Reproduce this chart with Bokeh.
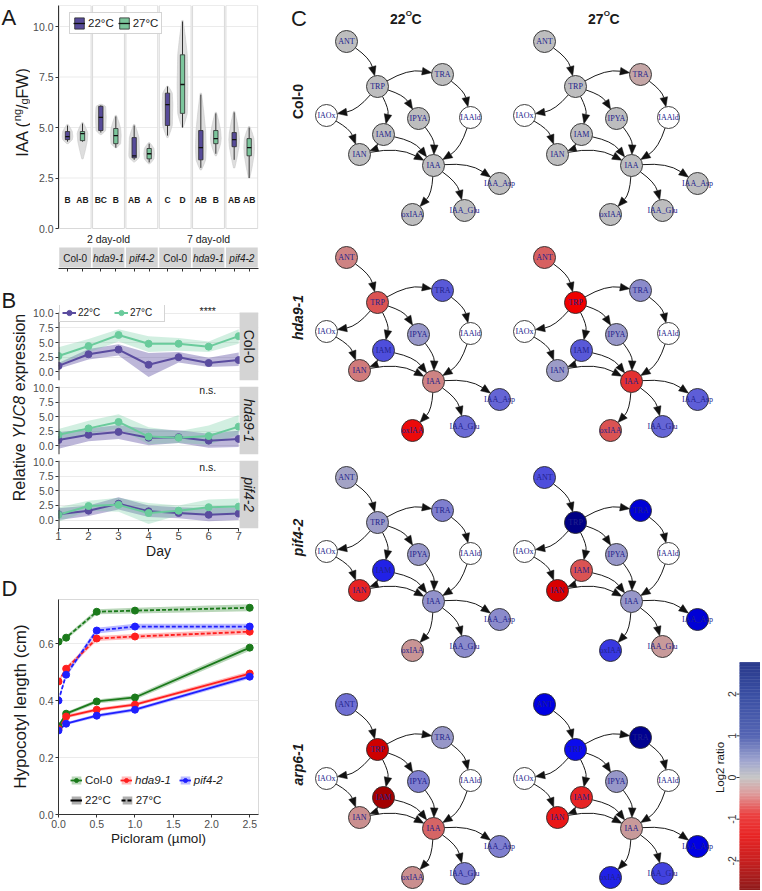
import math
import numpy as np
from bokeh.plotting import figure
from bokeh.models import (Range1d, FixedTicker, NumeralTickFormatter, Legend,
                          LegendItem, ColumnDataSource, LinearColorMapper)
from bokeh.layouts import row, column
from bokeh.embed import file_html
from bokeh.resources import INLINE
from bokeh.core.properties import value

SANS = "Liberation Sans"
SERIF = "Liberation Serif"
AX = "#333333"
TICKTXT = "#4D4D4D"
GRID = "#EBEBEB"
TXT = "#1A1A1A"
PURPLE = "#5A4C9F"
GREEN = "#6ACB9C"
BOX22 = "#574B99"
BOX27 = "#7CC69C"
STRIP = "#D4D4D4"
C_COL0 = "#1B7A1B"
C_HDA9 = "#FF1F1F"
C_PIF4 = "#1F1FFF"

# ======================= DATA =======================
# ---- Panel A : IAA (ng/gFW), facets = age x genotype
a_age = ["2 day-old", "7 day-old"]
a_genotype = ["Col-0", "hda9-1", "pif4-2", "Col-0", "hda9-1", "pif4-2"]
a_temp = ["22°C", "27°C"]
a22_lo = [4.3, 4.75, 3.4, 4.6, 3.0, 3.4]
a22_q1 = [4.4, 4.85, 3.5, 5.1, 3.4, 4.05]
a22_med = [4.55, 5.5, 3.6, 6.13, 4.0, 4.4]
a22_q3 = [4.8, 6.05, 4.5, 6.7, 4.85, 4.75]
a22_hi = [5.1, 6.1, 5.1, 7.03, 6.63, 5.75]
a27_lo = [4.3, 4.0, 3.27, 5.0, 3.7, 2.5]
a27_q1 = [4.35, 4.2, 3.45, 5.7, 4.2, 3.6]
a27_med = [4.7, 4.6, 3.7, 7.13, 4.45, 4.0]
a27_q3 = [4.8, 4.95, 3.96, 8.6, 4.85, 4.45]
a27_hi = [5.2, 5.55, 4.2, 10.25, 5.7, 5.0]
a22_vmin = [4.2, 4.65, 3.3, 4.5, 2.9, 3.0]
a22_vmax = [5.15, 6.15, 5.15, 7.05, 6.7, 5.8]
a27_vmin = [3.45, 4.0, 3.2, 5.0, 3.6, 2.5]
a27_vmax = [5.25, 5.6, 4.25, 10.3, 5.75, 5.05]
a22_group = ["B", "BC", "AB", "C", "AB", "AB"]
a27_group = ["AB", "B", "A", "D", "B", "AB"]
a_yticks = [0, 2.5, 5, 7.5, 10]

# ---- Panel B : relative YUC8 expression
b_day = [1, 2, 3, 4, 5, 6, 7]
b_genotype = ["Col-0", "hda9-1", "pif4-2"]
b_signif = ["****", "n.s.", "n.s."]
b_col0_22 = [1.0, 3.0, 3.8, 1.2, 2.5, 1.5, 2.0]
b_col0_22_lo = [0.5, 2.1, 2.8, -0.9, 1.6, 0.8, 1.0]
b_col0_22_hi = [1.5, 3.9, 4.7, 3.2, 3.4, 2.4, 3.3]
b_col0_27 = [2.7, 4.4, 6.3, 4.8, 4.8, 4.3, 6.1]
b_col0_27_lo = [1.2, 3.3, 5.2, 3.4, 3.6, 3.4, 4.8]
b_col0_27_hi = [4.2, 5.6, 7.3, 6.1, 5.8, 5.2, 7.3]
b_hda9_22 = [1.0, 1.9, 2.4, 1.4, 1.5, 0.9, 1.2]
b_hda9_22_lo = [-0.5, 0.8, 1.2, 0.1, 0.5, -0.3, -0.2]
b_hda9_22_hi = [2.3, 3.0, 3.6, 2.9, 2.7, 2.1, 2.6]
b_hda9_27 = [1.9, 3.0, 4.1, 1.6, 1.4, 1.7, 3.3]
b_hda9_27_lo = [0.9, 2.0, 3.0, 0.3, 0.5, 0.2, 1.9]
b_hda9_27_hi = [2.9, 4.3, 5.4, 3.2, 2.5, 3.5, 5.3]
b_pif4_22 = [1.0, 1.6, 2.8, 1.5, 1.2, 0.9, 1.1]
b_pif4_22_lo = [0.0, 0.7, 1.8, 0.5, 0.3, -0.2, 0.0]
b_pif4_22_hi = [2.0, 2.5, 3.9, 2.5, 2.2, 2.0, 2.2]
b_pif4_27 = [0.9, 2.4, 2.6, 1.2, 1.6, 2.2, 2.3]
b_pif4_27_lo = [-0.3, 1.6, 1.4, -0.7, 0.8, 0.9, 0.8]
b_pif4_27_hi = [2.2, 3.3, 3.8, 2.9, 2.5, 3.5, 3.7]
b_yticks = [0, 2.5, 5, 7.5, 10]

# ---- Panel D : hypocotyl length (cm) vs picloram (umol)
d_dose = [0.0, 0.1, 0.5, 1.0, 2.5]
d_col0_22 = [0.31, 0.354, 0.397, 0.411, 0.586]
d_hda9_22 = [0.30, 0.344, 0.368, 0.386, 0.495]
d_pif4_22 = [0.295, 0.319, 0.347, 0.368, 0.484]
d_col0_27 = [0.607, 0.621, 0.712, 0.716, 0.726]
d_hda9_27 = [0.467, 0.512, 0.618, 0.625, 0.642]
d_pif4_27 = [0.40, 0.491, 0.646, 0.66, 0.66]
d_col0_22_se = [0.006, 0.006, 0.007, 0.008, 0.011]
d_hda9_22_se = [0.005, 0.006, 0.006, 0.006, 0.008]
d_pif4_22_se = [0.005, 0.005, 0.006, 0.006, 0.007]
d_col0_27_se = [0.007, 0.007, 0.009, 0.010, 0.012]
d_hda9_27_se = [0.007, 0.008, 0.009, 0.009, 0.010]
d_pif4_27_se = [0.007, 0.008, 0.010, 0.010, 0.010]
d_genotype = ["Col-0", "hda9-1", "pif4-2"]
d_temp = ["22°C", "27°C"]

# ---- Panel C : metabolite network, log2 ratios (NaN = not measured)
c_nodes = ["ANT", "TRP", "TRA", "IAOx", "IPYA", "IAAld", "IAM", "IAN", "IAA",
           "IAA_Asp", "oxIAA", "IAA_Glu"]
c_edge_from = ["ANT", "TRP", "TRP", "TRP", "TRP", "TRA", "IAOx", "IAM", "IAM",
               "IAN", "IPYA", "IAAld", "IAA", "IAA", "IAA"]
c_edge_to = ["TRP", "TRA", "IAOx", "IAM", "IPYA", "IAAld", "IAN", "IAN", "IAA",
             "IAA", "IAA", "IAA", "IAA_Asp", "oxIAA", "IAA_Glu"]
c_genotype = ["Col-0", "hda9-1", "pif4-2", "arp6-1"]
c_temp = ["22", "27"]
nan = float("nan")
c_col0_22 = [0, 0, 0, nan, 0, nan, 0, 0, 0, 0, 0, 0]
c_col0_27 = [0, 0, -0.2, nan, 0, nan, 0, 0, 0, 0, 0, 0]
c_hda9_22 = [-0.5, -0.9, 0.9, nan, 0.35, nan, 1.0, -0.55, -0.5, 0.8, -1.5, 0.75]
c_hda9_27 = [-0.8, -1.6, 0.45, nan, 0.35, nan, 0.9, 0.3, -1.2, 0.85, -0.9, 0.8]
c_pif4_22 = [0.25, 0.3, 0.55, nan, 0.35, nan, 1.4, -1.3, 0.4, 0.45, -0.35, 0.45]
c_pif4_27 = [1.0, 2.6, 1.9, nan, 0.35, nan, -0.9, -1.8, 0.35, 1.9, 1.2, -0.3]
c_arp6_22 = [0.7, -1.9, 0.35, nan, 0.55, nan, -2.3, -0.4, -0.75, 0.55, -0.4, 0.6]
c_arp6_27 = [1.8, 1.6, 2.5, nan, 0.35, nan, -1.3, -1.4, -0.3, 1.8, 1.4, 1.1]
c_cbar_ticks = [-2, -1, 0, 1, 2]

# ---- network layout (pixel offsets from ANT) and panel anchors
LAY_DX = [0, 31, 96, -20, 72, 124, 37, 13, 87, 153, 66, 118]
LAY_DY = [0, 45, 33, 74, 77, 76, 93, 113, 124, 142, 173, 169]
ANCHOR_X = [346, 544]
ANCHOR_Y = [41, 257, 477, 704]


# ======================= HELPERS =======================
def conv(fl, ft, fw, fh, xr, yr):
    def fx(px):
        return xr[0] + (px - fl) * (xr[1] - xr[0]) / fw

    def fy(py):
        return yr[0] + (ft + fh - py) * (yr[1] - yr[0]) / fh
    return fx, fy


def style_axis(ax, size="10.5px"):
    ax.axis_line_color = AX
    ax.major_tick_line_color = AX
    ax.major_tick_out = 3
    ax.major_tick_in = 0
    ax.minor_tick_line_color = None
    ax.major_label_text_font = SANS
    ax.major_label_text_font_size = size
    ax.major_label_text_color = TICKTXT
    ax.major_label_standoff = 2


def new_fig(w, h, xr, yr, l, r, t, b):
    p = figure(width=w, height=h, x_range=Range1d(*xr), y_range=Range1d(*yr),
               output_backend="svg", toolbar_location=None,
               min_border_left=l, min_border_right=r, min_border_top=t, min_border_bottom=b)
    p.background_fill_color = "white"
    p.border_fill_color = "white"
    return p


def ptext(p, x, y, text, size, style="normal", align="left", baseline="middle", angle=0.0,
          color=TXT, font=SANS):
    p.text(x=[x], y=[y], text=[text], text_font=value(font), text_font_size=f"{size}px",
           text_font_style=value(style), text_align=align, text_baseline=baseline,
           angle=angle, text_color=color)


def hex2rgb(h):
    return tuple(int(h[i:i + 2], 16) for i in (1, 3, 5))


def ramp(anchors, n=256):
    av = [a for a, _ in anchors]
    ac = [hex2rgb(c) for _, c in anchors]
    out = []
    for t in np.linspace(av[0], av[-1], n):
        rgb = [int(round(np.interp(t, av, [c[j] for c in ac]))) for j in range(3)]
        out.append("#%02x%02x%02x" % tuple(rgb))
    return out


TW = 30  # width of the side-title strip
H_ALL = 890

# side strip: figure whose data coordinates are page pixels
tL = figure(width=TW, height=H_ALL, x_range=Range1d(0, TW), y_range=Range1d(H_ALL, 0),
            x_axis_location=None, y_axis_location=None, output_backend="svg",
            toolbar_location=None, min_border=0)
tL.xgrid.visible = False
tL.ygrid.visible = False
tL.outline_line_color = None

# ======================= PANEL A =======================
A_XR = (0.0, 6.0)
A_YR = (-1.98, 11.04)
pA = new_fig(290 - TW, 282, A_XR, A_YR, 57 - TW, 28, 5, 14)
pA.outline_line_color = None
pA.xgrid.visible = False
pA.ygrid.visible = False
Afx, Afy = conv(57, 5, 205, 263, A_XR, A_YR)

fac = np.arange(6, dtype=float)
GAP = 0.022
pA.quad(left=fac + GAP, right=fac + 1 - GAP, bottom=0, top=A_YR[1],
        fill_color="white", line_color=None)
gx0, gx1, gyv = [], [], []
for i in range(6):
    for t in a_yticks[1:]:
        gx0.append(i + GAP); gx1.append(i + 1 - GAP); gyv.append(t)
pA.segment(x0=gx0, y0=gyv, x1=gx1, y1=gyv, line_color=GRID, line_width=1)
pA.quad(left=fac + GAP, right=fac + 1 - GAP, bottom=0, top=A_YR[1],
        fill_color=None, line_color="#D9D9D9", line_width=1)

x22 = fac + 0.27
x27 = fac + 0.72


def violin(xc, lo, q1, med, q3, hi, w):
    ys = np.linspace(lo, hi, 40)
    prof_y = [lo, (lo + q1) / 2, q1, med, q3, (q3 + hi) / 2, hi]
    prof_w = [0.12 * w, 0.55 * w, 0.9 * w, w, 0.9 * w, 0.55 * w, 0.12 * w]
    ws = np.interp(ys, prof_y, prof_w)
    xs = np.concatenate([xc - ws, (xc + ws)[::-1]])
    yy = np.concatenate([ys, ys[::-1]])
    return list(xs), list(yy)


vxs, vys = [], []
for i in range(6):
    for xc, lo, q1, md, q3, hi in [(x22[i], a22_vmin[i], a22_q1[i], a22_med[i], a22_q3[i], a22_vmax[i]),
                                  (x27[i], a27_vmin[i], a27_q1[i], a27_med[i], a27_q3[i], a27_vmax[i])]:
        q1c = min(max(q1, lo + 0.01), hi - 0.03)
        mdc = min(max(md, q1c + 0.01), hi - 0.02)
        q3c = min(max(q3, mdc + 0.01), hi - 0.01)
        xs, ys = violin(xc, lo, q1c, mdc, q3c, hi, 0.16)
        vxs.append(xs); vys.append(ys)
pA.patches(xs=vxs, ys=vys, fill_color="#D3D3D3", fill_alpha=0.75, line_color="#C8C8C8", line_width=0.6)

BW = 0.13
leg_r = {}
for xs_, lo, q1, md, q3, hi, col, key in [
        (x22, a22_lo, a22_q1, a22_med, a22_q3, a22_hi, BOX22, "22"),
        (x27, a27_lo, a27_q1, a27_med, a27_q3, a27_hi, BOX27, "27")]:
    pA.segment(x0=xs_, y0=lo, x1=xs_, y1=q1, line_color="#333333", line_width=1)
    pA.segment(x0=xs_, y0=q3, x1=xs_, y1=hi, line_color="#333333", line_width=1)
    rb = pA.quad(left=xs_ - BW / 2, right=xs_ + BW / 2, bottom=q1, top=q3,
                 fill_color=col, line_color="#2B2B2B", line_width=0.8)
    rm = pA.segment(x0=xs_ - BW / 2, y0=md, x1=xs_ + BW / 2, y1=md,
                    line_color="#111111", line_width=1.3)
    leg_r[key] = [rb, rm]

pA.text(x=list(x22), y=[1.39] * 6, text=a22_group, text_font=value(SANS), text_font_size="8.5px",
        text_font_style="bold", text_align="center", text_baseline="middle", text_color=TXT)
pA.text(x=list(x27), y=[1.39] * 6, text=a27_group, text_font=value(SANS), text_font_size="8.5px",
        text_font_style="bold", text_align="center", text_baseline="middle", text_color=TXT)

# age labels and genotype strips below the panels
pA.text(x=[1.5, 4.5], y=[Afy(238)] * 2, text=a_age, text_font=value(SANS), text_font_size="10.5px",
        text_align="center", text_baseline="middle", text_color=TXT)
pA.quad(left=fac + GAP, right=fac + 1 - GAP, bottom=Afy(267), top=Afy(247),
        fill_color=STRIP, line_color=None)
strip_src = ColumnDataSource(dict(x=list(fac + 0.5), y=[Afy(257.5)] * 6, t=a_genotype,
                                  s=["normal" if g == "Col-0" else "italic" for g in a_genotype]))
pA.text(x="x", y="y", text="t", source=strip_src, text_font=value(SANS), text_font_size="10px",
        text_font_style={"field": "s"}, text_align="center", text_baseline="middle", text_color=TXT)

style_axis(pA.yaxis[0])
pA.yaxis.ticker = FixedTicker(ticks=a_yticks)
pA.yaxis.formatter = NumeralTickFormatter(format="0.0")
pA.yaxis.bounds = (0, A_YR[1])
style_axis(pA.xaxis[0])
a_xt = [float(v) for v in sorted(list(x22) + list(x27))]
pA.xaxis.ticker = FixedTicker(ticks=a_xt)
pA.xaxis.major_label_overrides = {v: "" for v in a_xt}
pA.xaxis.major_label_text_font_size = "0px"

legA = Legend(items=[LegendItem(label=a_temp[0], renderers=leg_r["22"]),
                     LegendItem(label=a_temp[1], renderers=leg_r["27"])],
              location=(11, 234), orientation="horizontal", glyph_width=12, glyph_height=14,
              label_height=14, label_text_font=SANS, label_text_font_size="11.5px",
              label_text_color=TXT, padding=3, spacing=4, label_standoff=3, margin=0,
              border_line_color="#AAAAAA", border_line_width=1, background_fill_color="white")
pA.add_layout(legA)

# letter A and y title IAA (ng/gFW)
ptext(tL, 1, 17, "A", 22)
yc = 112.0
seg = [("IAA (", 16, 0.0, 2.223), ("ng", 11, -5.5, 1.112), ("/", 16, 0.0, 0.278),
       ("g", 11, 2.3, 0.556), ("FW)", 16, 0.0, 1.888)]
widths = [sz * em for _, sz, _, em in seg]
cur = yc + sum(widths) / 2
for (txt, sz, dxo, em), wdt in zip(seg, widths):
    ptext(tL, 21.5 + dxo, cur, txt, sz, align="left", baseline="alphabetic", angle=math.pi / 2)
    cur -= wdt

# ======================= PANEL B =======================
B_XR = (1.0, 7.66)
B_YR = (0.0, 38.2)
pB = new_fig(290 - TW, 280, B_XR, B_YR, 57 - TW, 32, 23, 34)
pB.outline_line_color = None
pB.xgrid.visible = False
Bfx, Bfy = conv(57, 305, 201, 223, B_XR, B_YR)
FACET_H = 11.6
FACET_VMIN = -1.45
b_fbottom = [25.4, 12.7, 0.0]
b_base = [fb - FACET_VMIN for fb in b_fbottom]

b_yt, b_ov = [], {}
for bs in b_base:
    for t in b_yticks:
        v = round(bs + t, 6)
        b_yt.append(v)
        b_ov[v] = f"{t:.1f}"
style_axis(pB.yaxis[0])
pB.yaxis.ticker = FixedTicker(ticks=b_yt)
pB.yaxis.major_label_overrides = b_ov
pB.yaxis.axis_line_color = None
pB.ygrid.ticker = FixedTicker(ticks=b_yt)
pB.ygrid.grid_line_color = GRID
style_axis(pB.xaxis[0], "11.5px")
pB.xaxis.ticker = FixedTicker(ticks=b_day)
pB.xaxis.bounds = (1, 7)
pB.xaxis.major_label_standoff = 0
pB.xaxis.axis_label = "Day"
pB.xaxis.axis_label_text_font = SANS
pB.xaxis.axis_label_text_font_size = "14px"
pB.xaxis.axis_label_text_font_style = "normal"
pB.xaxis.axis_label_text_color = TXT
pB.xaxis.axis_label_standoff = 0

b_series = [(b_col0_22, b_col0_22_lo, b_col0_22_hi, b_col0_27, b_col0_27_lo, b_col0_27_hi),
            (b_hda9_22, b_hda9_22_lo, b_hda9_22_hi, b_hda9_27, b_hda9_27_lo, b_hda9_27_hi),
            (b_pif4_22, b_pif4_22_lo, b_pif4_22_hi, b_pif4_27, b_pif4_27_lo, b_pif4_27_hi)]
legB_r = {"22": [], "27": []}
for k, (m22, l22, h22, m27, l27, h27) in enumerate(b_series):
    bs = b_base[k]
    sh = lambda arr: [bs + v for v in arr]
    pB.varea(x=b_day, y1=sh(l22), y2=sh(h22), fill_color=PURPLE, fill_alpha=0.4)
    pB.varea(x=b_day, y1=sh(l27), y2=sh(h27), fill_color=GREEN, fill_alpha=0.3)
    r1 = pB.line(b_day, sh(m22), line_color=PURPLE, line_width=2)
    r2 = pB.line(b_day, sh(m27), line_color=GREEN, line_width=2)
    r3 = pB.scatter(b_day, sh(m22), size=7, fill_color=PURPLE, line_color=PURPLE)
    r4 = pB.scatter(b_day, sh(m27), size=7, fill_color=GREEN, line_color=GREEN)
    if k == 0:
        legB_r["22"] = [r1, r3]
        legB_r["27"] = [r2, r4]
b_ftop = [fb + FACET_H for fb in b_fbottom]
pB.quad(left=7.03, right=7.66, bottom=b_fbottom, top=b_ftop, fill_color=STRIP, line_color=None)
bsrc = ColumnDataSource(dict(x=[7.35] * 3, y=[fb + FACET_H / 2 for fb in b_fbottom], t=b_genotype,
                             s=["normal", "italic", "italic"]))
pB.text(x="x", y="y", text="t", source=bsrc, angle=-math.pi / 2, text_font=value(SANS),
        text_font_size="14px", text_font_style={"field": "s"}, text_align="center",
        text_baseline="middle", text_color=TXT)
pB.segment(x0=[1.0] * 3, y0=b_fbottom, x1=[1.0] * 3, y1=b_ftop, line_color=AX, line_width=2)
sig_y = [Bfy(310), Bfy(389), Bfy(466)]
pB.text(x=[Bfx(207)] * 3, y=sig_y, text=b_signif, text_font=value(SANS), text_font_size="10.5px",
        text_align="center", text_baseline="middle", text_color=TXT)

legB = Legend(items=[LegendItem(label=a_temp[0], renderers=legB_r["22"]),
                     LegendItem(label=a_temp[1], renderers=legB_r["27"])],
              location=(1, 206), orientation="horizontal", glyph_width=14, glyph_height=13,
              label_height=13, label_width=32, label_text_font=SANS, label_text_font_size="10px",
              label_text_color=TXT, padding=2, spacing=4, label_standoff=2, margin=0,
              border_line_color="#AAAAAA", border_line_width=1, background_fill_color="white")
pB.add_layout(legB)

# letter B and y title "Relative YUC8 expression"
ptext(tL, 1, 300, "B", 22)
ysegs = [("Relative", "normal", 3.612), ("YUC8", "italic", 2.667), ("expression", "normal", 4.835)]
fs = 16
gap = 0.3 * fs
tot = sum(em for _, _, em in ysegs) * fs + 2 * gap
cur = 407 + tot / 2
for txt, st, em in ysegs:
    ptext(tL, 18.5, cur, txt, fs, style=st, align="left", baseline="alphabetic", angle=math.pi / 2)
    cur -= em * fs + gap

# ======================= PANEL D =======================
D_XR = (0.0, 2.615)
D_YR = (0.0, 0.755)
pD = new_fig(290 - TW, 328, D_XR, D_YR, 55 - TW, 30, 37, 76)
pD.outline_line_color = "#D9D9D9"
pD.xgrid.visible = False
style_axis(pD.xaxis[0])
style_axis(pD.yaxis[0])
pD.xaxis.ticker = FixedTicker(ticks=[0, 0.5, 1.0, 1.5, 2.0, 2.5])
pD.xaxis.formatter = NumeralTickFormatter(format="0.0")
pD.yaxis.ticker = FixedTicker(ticks=[0, 0.2, 0.4, 0.6])
pD.yaxis.formatter = NumeralTickFormatter(format="0.0")
pD.ygrid.ticker = FixedTicker(ticks=[0.2, 0.4, 0.6])
pD.ygrid.grid_line_color = GRID
pD.xaxis.axis_label = "Picloram (µmol)"
pD.xaxis.axis_label_text_font = SANS
pD.xaxis.axis_label_text_font_size = "13.5px"
pD.xaxis.axis_label_text_font_style = "normal"
pD.xaxis.axis_label_text_color = TXT
pD.xaxis.axis_label_standoff = 0

d_series = [(d_col0_22, d_col0_22_se, C_COL0, "solid"), (d_hda9_22, d_hda9_22_se, C_HDA9, "solid"),
            (d_pif4_22, d_pif4_22_se, C_PIF4, "solid"), (d_col0_27, d_col0_27_se, C_COL0, "4 2"),
            (d_hda9_27, d_hda9_27_se, C_HDA9, "4 2"), (d_pif4_27, d_pif4_27_se, C_PIF4, "4 2")]
rib_r, line_r, pt_r = [], [], []
for m, se, col, dash in d_series:
    rib_r.append(pD.varea(x=d_dose, y1=[a - b for a, b in zip(m, se)], y2=[a + b for a, b in zip(m, se)],
                          fill_color=col, fill_alpha=0.3))
for m, se, col, dash in d_series:
    line_r.append(pD.line(d_dose, m, line_color=col, line_width=1.8, line_dash=dash))
for m, se, col, dash in d_series:
    pt_r.append(pD.scatter(d_dose, m, size=7, fill_color=col, line_color=col))

# legend-only renderers (not-a-number data, nothing drawn in the plot)
dummy_box = pD.quad(left=[nan], right=[nan], top=[nan], bottom=[nan], fill_color="#8C8C8C",
                    fill_alpha=0.7, line_color=None)
dummy_solid = pD.line(x=[nan, nan], y=[nan, nan], line_color="black", line_width=2)
dummy_dash = pD.line(x=[nan, nan], y=[nan, nan], line_color="black", line_width=2, line_dash="4 2")


def small_legend(items, loc, style, spacing):
    return Legend(items=items, location=loc, orientation="horizontal", glyph_width=12,
                  glyph_height=10, label_height=10, label_text_font=SANS,
                  label_text_font_size="11.5px", label_text_font_style=style,
                  label_text_color=TXT, padding=0, spacing=spacing, label_standoff=3, margin=0,
                  border_line_color=None, background_fill_alpha=0)


pD.add_layout(small_legend([LegendItem(label=d_genotype[0], renderers=[rib_r[0], line_r[0], pt_r[0]])],
                           (12, 28), "normal", 8))
pD.add_layout(small_legend([LegendItem(label=d_genotype[1], renderers=[rib_r[1], line_r[1], pt_r[1]]),
                            LegendItem(label=d_genotype[2], renderers=[rib_r[2], line_r[2], pt_r[2]])],
                           (62, 28), "italic", 8))
pD.add_layout(small_legend([LegendItem(label=d_temp[0], renderers=[dummy_box, dummy_solid]),
                            LegendItem(label=d_temp[1], renderers=[dummy_box, dummy_dash])],
                           (12, 8), "normal", 10))

# letter D and y title
ptext(tL, 1, 588, "D", 22)
ptext(tL, 20, 706, "Hypocotyl length (cm)", 17, align="center", baseline="alphabetic",
      angle=math.pi / 2)

# ======================= PANEL C =======================
pC = figure(width=470, height=H_ALL, x_range=Range1d(290, 760), y_range=Range1d(H_ALL, 0),
            x_axis_location=None, y_axis_location=None, output_backend="svg",
            toolbar_location=None, min_border=0)
pC.xgrid.visible = False
pC.ygrid.visible = False
pC.outline_line_color = None

node_palette = ramp([(-2.7, "#7A0000"), (-1.6, "#F00000"), (0.0, "#BEBEBE"), (1.7, "#0000F0"),
                     (2.7, "#00007A")])
mapper = LinearColorMapper(palette=node_palette, low=-2.7, high=2.7, nan_color="white")
bar_palette = ramp([(-2.72, "#8E1B1B"), (-2.0, "#C82020"), (-1.4, "#E82525"), (-0.9, "#EB4040"),
                    (-0.4, "#DE9A9A"), (0.0, "#C6C6C6"), (0.4, "#9FA5CF"), (1.0, "#5565B3"),
                    (2.0, "#3A4FA3"), (2.74, "#2A3A8C")])
bar_mapper = LinearColorMapper(palette=bar_palette, low=-2.72, high=2.74)

c_values = [[c_col0_22, c_col0_27], [c_hda9_22, c_hda9_27], [c_pif4_22, c_pif4_27],
            [c_arp6_22, c_arp6_27]]
NR = 11.0
ex0, ey0, ex1, ey1, ecx, ecy, hx, hy = [], [], [], [], [], [], [], []
nx_all, ny_all, nv_all, nt_all = [], [], [], []
for ri in range(4):
    for ci in range(2):
        ax0 = ANCHOR_X[ci]
        ay0 = ANCHOR_Y[ri]
        pos = {n: (ax0 + dx, ay0 + dy) for n, dx, dy in zip(c_nodes, LAY_DX, LAY_DY)}
        for a, b in zip(c_edge_from, c_edge_to):
            sx, sy = pos[a]
            tx, ty = pos[b]
            dx, dy = tx - sx, ty - sy
            L = math.hypot(dx, dy)
            ux, uy = dx / L, dy / L
            nxv, nyv = uy, -ux
            cx = (sx + tx) / 2 + 0.18 * L * nxv
            cy = (sy + ty) / 2 + 0.18 * L * nyv
            vx, vy = cx - sx, cy - sy
            vl = math.hypot(vx, vy)
            x0, y0 = sx + NR * vx / vl, sy + NR * vy / vl
            bx, by = tx - cx, ty - cy
            bl = math.hypot(bx, by)
            bx, by = bx / bl, by / bl
            tipx, tipy = tx - NR * bx, ty - NR * by
            hl = min(9.5, max(5.0, (L - 2 * NR) * 0.9))
            hw = 3.8 * hl / 9.5
            basex, basey = tipx - hl * bx, tipy - hl * by
            ex0.append(x0); ey0.append(y0); ex1.append(basex); ey1.append(basey)
            ecx.append(cx); ecy.append(cy)
            hx.append([tipx, basex + hw * by, basex - hw * by])
            hy.append([tipy, basey - hw * bx, basey + hw * bx])
        for n, v in zip(c_nodes, c_values[ri][ci]):
            nx_all.append(pos[n][0]); ny_all.append(pos[n][1]); nv_all.append(v); nt_all.append(n)

pC.quadratic(x0=ex0, y0=ey0, x1=ex1, y1=ey1, cx=ecx, cy=ecy, line_color="#1A1A1A", line_width=1)
pC.patches(xs=hx, ys=hy, fill_color="#111111", line_color="#111111", line_width=0.5)
nsrc = ColumnDataSource(dict(x=nx_all, y=ny_all, v=nv_all, t=nt_all))
pC.circle(x="x", y="y", radius=NR, source=nsrc, fill_color={"field": "v", "transform": mapper},
          line_color="#2A2A2A", line_width=0.9)
pC.text(x="x", y="y", text="t", source=nsrc, text_font=value(SERIF), text_font_size="8px",
        text_align="center", text_baseline="middle", text_color="#22228C")

# headers 22ºC / 27ºC
for ci in range(2):
    xc = ANCHOR_X[ci] + 59
    ptext(pC, xc - 15.6, 18, c_temp[ci], 14, style="bold", baseline="alphabetic")
    ptext(pC, xc + 0.3, 12.5, "O", 8, style="bold", baseline="alphabetic")
    ptext(pC, xc + 6.0, 18, "C", 14, style="bold", baseline="alphabetic")
rsrc = ColumnDataSource(dict(x=[297] * 4, y=[ay + 60 for ay in ANCHOR_Y], t=c_genotype,
                             s=["bold"] + ["bold italic"] * 3))
pC.text(x="x", y="y", text="t", source=rsrc, angle=math.pi / 2, text_font=value(SANS),
        text_font_size="14px", text_font_style={"field": "s"}, text_align="center",
        text_baseline="middle", text_color=TXT)
ptext(pC, 290.5, 18, "C", 22)

# colour bar
CB0 = 777.0
CBS = 41.7
cb_v = np.linspace(-2.72, 2.74, 160)
dv = cb_v[1] - cb_v[0]
cbsrc = ColumnDataSource(dict(v=list(cb_v), top=list(CB0 - CBS * (cb_v + dv / 2 + 0.01)),
                              bottom=list(CB0 - CBS * (cb_v - dv / 2))))
pC.quad(left=739, right=760, top="top", bottom="bottom", source=cbsrc,
        fill_color={"field": "v", "transform": bar_mapper}, line_color=None)
pC.segment(x0=[736] * 5, x1=[739] * 5, y0=[CB0 - CBS * t for t in c_cbar_ticks],
           y1=[CB0 - CBS * t for t in c_cbar_ticks], line_color="#333333", line_width=1)
pC.text(x=[731] * 5, y=[CB0 - CBS * t for t in c_cbar_ticks], text=[str(t) for t in c_cbar_ticks],
        angle=math.pi / 2, text_font=value(SANS), text_font_size="10.5px", text_align="center",
        text_baseline="middle", text_color="#333333")
pC.text(x=[719], y=[767], text=["Log2 ratio"], angle=math.pi / 2, text_font=value(SANS),
        text_font_size="11.5px", text_align="center", text_baseline="middle", text_color=TXT)

layout = row(tL, column(pA, pB, pD), pC)
open("out.html", "w").write(file_html(layout, INLINE, "Figure"))
